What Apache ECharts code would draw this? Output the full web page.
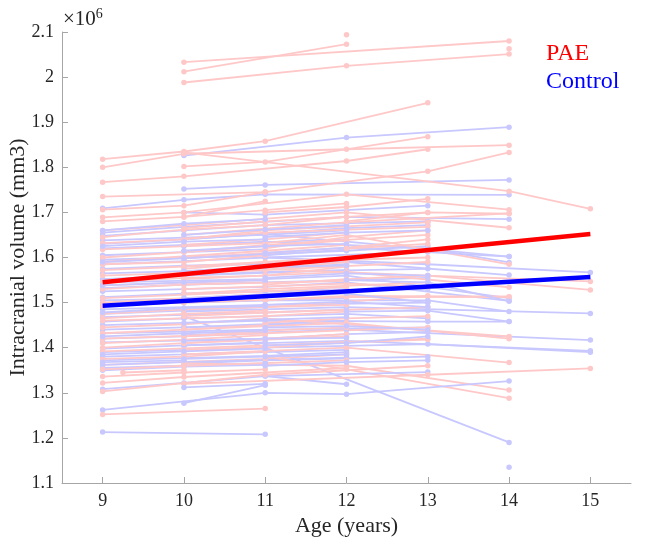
<!DOCTYPE html>
<html><head><meta charset="utf-8">
<script src="https://cdn.jsdelivr.net/npm/echarts@6/dist/echarts.min.js"></script>
<style>html,body{margin:0;padding:0;background:#fff}#c{width:645px;height:542px}</style>
</head><body><div id="c"></div>
<script>
// ages (years) at which ticks are labelled
const ageTicks = [9, 10, 11, 12, 13, 14, 15];
// per-subject trajectories [age, ICV x1e6]
const paeSubjects = [
  [[10,2.033],[14,2.080]],
  [[10,2.012],[12,2.073]],
  [[10,1.988],[12,2.025],[14,2.051]],
  [[12,2.094]],
  [[14,2.063]],
  [[9,1.818],[10,1.835],[11,1.858],[13,1.943]],
  [[9,1.800],[10,1.830],[12,1.840],[14,1.849]],
  [[9,1.767],[10,1.780],[12,1.814],[13,1.840]],
  [[10,1.833],[14,1.747],[15,1.708]],
  [[10,1.802],[11,1.812],[13,1.868]],
  [[9,1.735],[11,1.745],[13,1.791],[14,1.833]],
  [[9,1.706],[10,1.715],[11,1.745]],
  [[9,1.689],[10,1.700],[12,1.740],[14,1.706]],
  [[9,1.680],[10,1.690],[11,1.725]],
  [[9,1.660],[10,1.672],[12,1.700],[14,1.666]],
  [[10,1.665],[11,1.680],[13,1.700]],
  [[9,1.645],[10,1.662],[11,1.672],[12,1.690]],
  [[10,1.650],[12,1.678],[14,1.698]],
  [[9,1.632],[10,1.640],[11,1.660],[13,1.678]],
  [[10,1.628],[11,1.640],[12,1.655]],
  [[9,1.618],[11,1.632],[12,1.650],[14,1.585]],
  [[10,1.612],[11,1.628],[13,1.650]],
  [[9,1.600],[10,1.612],[12,1.638]],
  [[10,1.598],[11,1.610],[12,1.622],[13,1.640]],
  [[9,1.585],[10,1.590],[11,1.605]],
  [[11,1.575],[13,1.560],[15,1.547]],
  [[9,1.572],[10,1.580],[12,1.600],[13,1.615]],
  [[10,1.568],[11,1.575],[12,1.590]],
  [[9,1.560],[11,1.572],[13,1.590]],
  [[10,1.552],[12,1.568],[14,1.534]],
  [[9,1.545],[10,1.555],[11,1.560]],
  [[11,1.540],[12,1.552],[13,1.560],[15,1.528]],
  [[9,1.530],[10,1.540],[12,1.548]],
  [[10,1.520],[11,1.530],[13,1.545]],
  [[9,1.510],[11,1.525],[12,1.535]],
  [[10,1.500],[12,1.512],[14,1.513]],
  [[9,1.492],[10,1.500],[11,1.515]],
  [[11,1.490],[12,1.502],[13,1.515]],
  [[9,1.475],[10,1.485],[12,1.495]],
  [[10,1.470],[11,1.478],[13,1.490]],
  [[9,1.460],[11,1.470],[12,1.480]],
  [[9,1.445],[10,1.452],[11,1.465],[14,1.425]],
  [[10,1.440],[12,1.455],[14,1.420]],
  [[9,1.432],[10,1.440],[11,1.450]],
  [[9,1.420],[11,1.432],[13,1.445]],
  [[10,1.410],[11,1.420],[12,1.430]],
  [[9,1.400],[10,1.410],[12,1.425]],
  [[9,1.392],[11,1.405],[13,1.420]],
  [[10,1.385],[12,1.400],[14,1.367]],
  [[9,1.375],[10,1.380],[11,1.392]],
  [[9,1.362],[11,1.375],[12,1.385]],
  [[10,1.365],[12,1.360],[14,1.306]],
  [[11,1.380],[12,1.352],[14,1.288]],
  [[9,1.336],[10,1.345],[11,1.352]],
  [[9.25,1.345],[10,1.350]],
  [[9,1.322],[10,1.335],[12,1.355]],
  [[9,1.303],[11,1.340],[13,1.360]],
  [[9,1.252],[11,1.265]],
  [[10,1.320],[13,1.340],[15,1.354]],
  [[10,1.690],[11,1.705],[12,1.720]],
  [[11,1.700],[12,1.712],[13,1.730]],
  [[10,1.642],[11,1.655],[13,1.668]],
  [[11,1.620],[12,1.645],[13,1.660]],
  [[9,1.590],[11,1.615],[12,1.628]],
  [[10,1.575],[11,1.590],[13,1.600]],
  [[11,1.560],[12,1.580]],
  [[9,1.538],[11,1.550]],
  [[10,1.530],[12,1.542],[13,1.535]],
  [[9,1.500],[10,1.510],[12,1.528]],
  [[11,1.505],[12,1.515],[14,1.513]],
  [[9,1.465],[10,1.475],[11,1.482]],
  [[11,1.455],[12,1.465],[13,1.470]],
  [[10,1.425],[11,1.438],[12,1.445]],
  [[9,1.410],[10,1.418],[11,1.428]],
  [[11,1.400],[12,1.412],[13,1.418]],
  [[10,1.395],[11,1.402]],
  [[9,1.352],[10,1.360],[12,1.372]],
  [[12,1.680],[13,1.700],[14,1.697]],
  [[12,1.620],[13,1.630]]
];
const controlSubjects = [
  [[10,1.826],[12,1.866],[14,1.889]],
  [[10,1.752],[11,1.761],[14,1.772]],
  [[9,1.709],[10,1.728],[11,1.740],[14,1.739]],
  [[10,1.700],[11,1.695],[13,1.715]],
  [[9,1.655],[10,1.668],[12,1.690],[14,1.685]],
  [[9,1.648],[10,1.660],[11,1.672],[13,1.680]],
  [[10,1.640],[12,1.665],[13,1.672]],
  [[9,1.638],[11,1.650],[12,1.660]],
  [[9,1.630],[10,1.640],[11,1.652],[14,1.602]],
  [[10,1.625],[11,1.635],[13,1.620],[14,1.589]],
  [[9,1.620],[10,1.628],[12,1.640]],
  [[11,1.600],[13,1.585],[15,1.567]],
  [[9,1.605],[10,1.612],[11,1.618]],
  [[10,1.600],[12,1.615],[13,1.625]],
  [[9,1.595],[11,1.605],[12,1.618]],
  [[9,1.585],[10,1.592],[11,1.600],[13,1.612]],
  [[10,1.580],[12,1.595]],
  [[9,1.575],[10,1.582],[12,1.590],[14,1.561]],
  [[9,1.565],[11,1.575],[12,1.585]],
  [[10,1.560],[11,1.568],[13,1.575]],
  [[9,1.552],[10,1.560],[12,1.572]],
  [[9,1.545],[11,1.552],[12,1.560],[14,1.510]],
  [[10,1.540],[12,1.550],[13,1.555]],
  [[9,1.532],[10,1.540],[11,1.545]],
  [[9,1.525],[11,1.535],[12,1.545],[14,1.504]],
  [[10,1.520],[11,1.525],[13,1.530]],
  [[9,1.512],[10,1.520],[12,1.530]],
  [[9,1.505],[11,1.512],[12,1.520]],
  [[10,1.500],[11,1.505],[13,1.505],[14,1.480]],
  [[9,1.495],[10,1.500],[12,1.510]],
  [[9,1.485],[11,1.495],[13,1.500]],
  [[10,1.480],[12,1.490],[15,1.476]],
  [[9,1.475],[10,1.482],[11,1.490]],
  [[9,1.468],[11,1.478],[12,1.485]],
  [[10,1.470],[14,1.190]],
  [[9,1.458],[10,1.465],[12,1.475],[13,1.465]],
  [[9,1.450],[11,1.460],[13,1.458],[14,1.458]],
  [[10,1.445],[11,1.452],[12,1.460]],
  [[9,1.440],[10,1.445],[12,1.455]],
  [[9,1.432],[11,1.440],[13,1.445]],
  [[10,1.428],[12,1.440],[15,1.417]],
  [[9,1.420],[10,1.425],[11,1.432]],
  [[9,1.412],[11,1.420],[12,1.430],[13,1.435]],
  [[10,1.405],[12,1.415],[15,1.393]],
  [[9,1.398],[10,1.405],[11,1.412]],
  [[9,1.390],[11,1.400],[13,1.408],[15,1.390]],
  [[10,1.385],[12,1.395]],
  [[9,1.380],[10,1.385],[11,1.392]],
  [[9,1.372],[11,1.382],[12,1.390]],
  [[10,1.365],[11,1.372],[13,1.380]],
  [[9,1.362],[10,1.368],[12,1.378]],
  [[9,1.355],[11,1.365]],
  [[9,1.350],[10,1.358],[11,1.362]],
  [[11,1.337],[12,1.319]],
  [[9,1.308],[10,1.322],[11,1.337],[13,1.346]],
  [[9,1.262],[11,1.300],[12,1.297],[14,1.326]],
  [[10,1.277],[11,1.317]],
  [[9,1.213],[11,1.208]],
  [[10,1.312],[11,1.320]],
  [[14,1.135]],
  [[9,1.660],[10,1.675],[11,1.685]],
  [[10,1.650],[11,1.662],[12,1.672]],
  [[11,1.645],[12,1.655],[13,1.660]],
  [[9,1.625],[10,1.635],[11,1.640]],
  [[10,1.615],[11,1.625],[12,1.630]],
  [[11,1.610],[12,1.622],[14,1.602]],
  [[9,1.590],[10,1.598],[11,1.608]],
  [[10,1.570],[11,1.580],[12,1.582]],
  [[11,1.555],[12,1.565],[13,1.560]],
  [[9,1.538],[10,1.545],[11,1.550]],
  [[10,1.510],[11,1.518],[12,1.525]],
  [[11,1.495],[12,1.502],[13,1.490]],
  [[9,1.478],[10,1.488],[11,1.492]],
  [[10,1.455],[11,1.462],[12,1.468]],
  [[11,1.445],[12,1.448],[13,1.440]],
  [[9,1.425],[10,1.432],[11,1.438]],
  [[10,1.415],[11,1.420],[12,1.422]],
  [[11,1.405],[12,1.410],[13,1.425]],
  [[9,1.385],[10,1.392],[11,1.398]],
  [[10,1.375],[11,1.380],[12,1.385]],
  [[9,1.368],[10,1.372]],
  [[11,1.360],[12,1.368],[13,1.372]],
  [[12,1.550],[13,1.545],[14,1.503]],
  [[12,1.520],[13,1.500]],
  [[12,1.480],[13,1.482],[14,1.458]]
];
// group mean trajectories
const paeTrend = [[9,1.545],[15,1.652]];
const controlTrend = [[9,1.493],[15,1.557]];

const PALE_RED = '#ffc8c8', PALE_BLUE = '#c8c8ff';
const FONT = 'Liberation Serif';
function subj(data, color) {
  return {type:'line', data, symbol:'circle', symbolSize:5.5, showSymbol:true,
    lineStyle:{color, width:1.8}, itemStyle:{color}, silent:true, z:2};
}
const series = [];
const n = Math.max(paeSubjects.length, controlSubjects.length);
for (let i = 0; i < n; i++) {
  if (paeSubjects[i]) series.push(subj(paeSubjects[i], PALE_RED));
  if (controlSubjects[i]) series.push(subj(controlSubjects[i], PALE_BLUE));
}
series.push({type:'line', data:paeTrend, symbol:'none', lineStyle:{color:'#ff0000', width:4.5}, z:5, silent:true});
series.push({type:'line', data:controlTrend, symbol:'none', lineStyle:{color:'#0000ff', width:4.5}, z:5, silent:true});

const chart = echarts.init(document.getElementById('c'), null, {renderer:'canvas'});
chart.setOption({
  animation:false,
  backgroundColor:'#ffffff',
  grid:{left:62, right:14, top:32, bottom:59, containLabel:false, outerBoundsMode:'none'},
  xAxis:{type:'value', min:8.5, max:15.5,
    name:'Age (years)', nameLocation:'middle', nameGap:31,
    nameTextStyle:{fontFamily:FONT, fontSize:22, color:'#262626'},
    axisLine:{show:true, lineStyle:{color:'#a6a6a6', width:1}},
    axisTick:{show:true, inside:true, length:6, customValues:ageTicks, lineStyle:{color:'#a6a6a6'}},
    axisLabel:{customValues:ageTicks, fontFamily:FONT, fontSize:18, color:'#262626', margin:9},
    splitLine:{show:false}},
  yAxis:{type:'value', min:1.1, max:2.1, interval:0.1,
    name:'Intracranial volume (mm3)', nameLocation:'middle', nameGap:33, nameMoveOverlap:false,
    nameTextStyle:{fontFamily:FONT, fontSize:22, color:'#262626'},
    axisLine:{show:true, lineStyle:{color:'#a6a6a6', width:1}},
    axisTick:{show:true, inside:true, length:6, lineStyle:{color:'#a6a6a6'}},
    axisLabel:{fontFamily:FONT, fontSize:18, color:'#262626', margin:8,
      formatter:v => String(parseFloat(v.toFixed(1)))},
    splitLine:{show:false}},
  graphic:[
    {type:'text', left:63, top:7, style:{rich:{
        a:{fontFamily:FONT, fontSize:21, fill:'#262626'},
        s:{fontFamily:FONT, fontSize:14, fill:'#262626', verticalAlign:'top', padding:[0,0,10,0]}},
      text:'{a|×10}{s|6}'}},
    {type:'text', left:546, top:42, style:{text:'PAE', fontFamily:FONT, fontSize:24, fill:'#ff0000'}},
    {type:'text', left:546, top:70, style:{text:'Control', fontFamily:FONT, fontSize:24, fill:'#0000ff'}}
  ],
  series
});
</script></body></html>
